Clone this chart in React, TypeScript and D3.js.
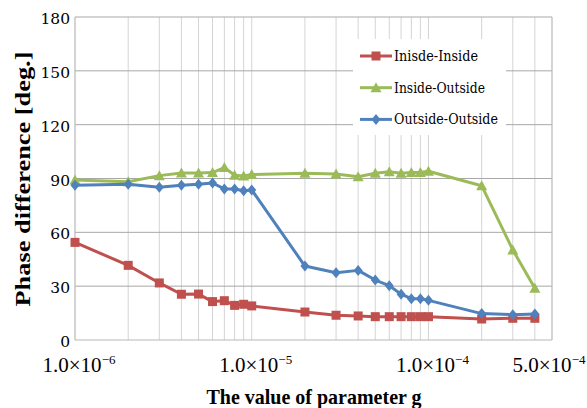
import React from "react";
import * as d3 from "d3";

const xValues = [
  1e-6, 2e-6, 3e-6, 4e-6, 5e-6, 6e-6, 7e-6, 8e-6, 9e-6, 1e-5,
  2e-5, 3e-5, 4e-5, 5e-5, 6e-5, 7e-5, 8e-5, 9e-5, 1e-4,
  2e-4, 3e-4, 4e-4,
];
const insideInside = [
  54.4, 41.6, 31.8, 25.5, 25.6, 21.4, 21.9, 19.3, 19.9, 19.0,
  15.6, 13.8, 13.4, 13.0, 13.0, 13.0, 13.0, 13.0, 13.0,
  11.7, 12.1, 12.1,
];
const insideOutside = [
  89.2, 88.2, 91.6, 93.1, 93.1, 93.3, 96.1, 91.8, 91.4, 92.2,
  92.9, 92.5, 91.0, 92.9, 93.8, 92.9, 93.3, 93.3, 94.0,
  86.0, 50.2, 28.8,
];
const outsideOutside = [
  86.2, 86.8, 85.1, 86.2, 86.8, 87.5, 84.2, 84.2, 83.2, 83.6,
  41.2, 37.5, 38.8, 33.4, 30.3, 25.5, 23.0, 23.0, 22.1,
  14.7, 14.1, 14.5,
];
const seriesNames = ["Inisde-Inside", "Inside-Outside", "Outside-Outside"];
const seriesColors = ["#C0504D", "#9BBB59", "#4F81BD"];
const seriesMarkers = ["square", "triangle", "diamond"];
const legendTextLengths = [84, 91, 104];

const yTicks = [0, 30, 60, 90, 120, 150, 180];
const xGridValues = [
  1e-6, 2e-6, 3e-6, 4e-6, 5e-6, 6e-6, 7e-6, 8e-6, 9e-6,
  1e-5, 2e-5, 3e-5, 4e-5, 5e-5, 6e-5, 7e-5, 8e-5, 9e-5,
  1e-4, 2e-4, 3e-4, 4e-4, 5e-4,
];
const xTickValues = [1e-6, 1e-5, 1e-4, 5e-4];
const xTickMantissa = ["1.0", "1.0", "1.0", "5.0"];
const xTickExp = ["\u22126", "\u22125", "\u22124", "\u22124"];

const W = 587;
const H = 408;
const L = 75, R = 552, T = 17, B = 340;

function Marker({ kind, x, y, color }: { kind: string; x: number; y: number; color: string }) {
  if (kind === "square") {
    return <rect x={x - 4.5} y={y - 4.5} width={9} height={9} fill={color} />;
  }
  if (kind === "triangle") {
    return <path d={`M${x},${y - 5.5}L${x + 5.5},${y + 4.5}L${x - 5.5},${y + 4.5}Z`} fill={color} />;
  }
  return <path d={`M${x},${y - 5.5}L${x + 4.5},${y}L${x},${y + 5.5}L${x - 4.5},${y}Z`} fill={color} />;
}

export default function App() {
  const x = d3.scaleLog().domain([1e-6, 5e-4]).range([L, R]);
  const y = d3.scaleLinear().domain([0, 180]).range([B, T]);
  const series = [insideInside, insideOutside, outsideOutside];
  const line = d3
    .line<number>()
    .x((_, i) => x(xValues[i]))
    .y((d) => y(d));

  const times = "Liberation Serif";
  const century = "DejaVu Serif";

  return (
    <svg
      width={W}
      height={H}
      style={{ position: "absolute", left: 0, top: 0, background: "#fff" }}
    >
      <rect x={0} y={0} width={W} height={H} fill="#fff" />
      {xGridValues.map((v, i) => (
        <line key={"vg" + i} x1={x(v)} x2={x(v)} y1={T} y2={B} stroke="#D4D4D4" strokeWidth={1} />
      ))}
      {yTicks.map((v, i) => (
        <line key={"hg" + i} x1={L} x2={R} y1={y(v)} y2={y(v)} stroke={v === 0 ? "#B8B8B8" : "#A8A8A8"} strokeWidth={1} />
      ))}
      <line x1={R} x2={R} y1={T} y2={B} stroke="#BFBFBF" strokeWidth={1} />
      <line x1={L} x2={L} y1={T} y2={B} stroke="#BFBFBF" strokeWidth={1} />

      {yTicks.map((v, i) => (
        <text
          key={"yt" + i}
          x={70}
          y={y(v) + 7}
          textAnchor="end"
          fontFamily={century}
          fontSize={15.5}
          fill="#000"
        >
          {v}
        </text>
      ))}

      {xTickValues.map((v, i) => (
        <text
          key={"xt" + i}
          x={x(v) + (i === 3 ? -3 : 4)}
          y={372}
          textAnchor="middle"
          fontFamily={times}
          fontSize={21}
          fill="#000"
        >
          {xTickMantissa[i]}
          {"\u00D710"}
          <tspan fontSize={13} dy={-8}>
            {xTickExp[i]}
          </tspan>
        </text>
      ))}

      {series.map((s, si) => (
        <g key={"s" + si}>
          <path d={line(s) || ""} fill="none" stroke={seriesColors[si]} strokeWidth={3} strokeLinejoin="round" />
          {s.map((d, i) => (
            <Marker key={i} kind={seriesMarkers[si]} x={x(xValues[i])} y={y(d)} color={seriesColors[si]} />
          ))}
        </g>
      ))}

      <rect x={353} y={39} width={153} height={96} fill="#fff" />
      {seriesNames.map((n, i) => {
        const ly = 56 + i * 31.7;
        return (
          <g key={"lg" + i}>
            <line x1={360} x2={392} y1={ly} y2={ly} stroke={seriesColors[i]} strokeWidth={3} />
            <Marker kind={seriesMarkers[i]} x={376} y={ly} color={seriesColors[i]} />
            <text
              x={394}
              y={ly + 5}
              fontFamily={century}
              fontSize={15}
              textLength={legendTextLengths[i]}
              lengthAdjust="spacingAndGlyphs"
              fill="#000"
            >
              {n}
            </text>
          </g>
        );
      })}

      <text
        x={314}
        y={404}
        textAnchor="middle"
        fontFamily={times}
        fontWeight="bold"
        fontSize={21}
        textLength={215}
        lengthAdjust="spacingAndGlyphs"
        fill="#000"
      >
        The value of parameter g
      </text>
      <text
        transform="translate(30,179) rotate(-90)"
        textAnchor="middle"
        fontFamily={times}
        fontWeight="bold"
        fontSize={22}
        textLength={255}
        lengthAdjust="spacingAndGlyphs"
        fill="#000"
      >
        Phase difference [deg.]
      </text>
    </svg>
  );
}
